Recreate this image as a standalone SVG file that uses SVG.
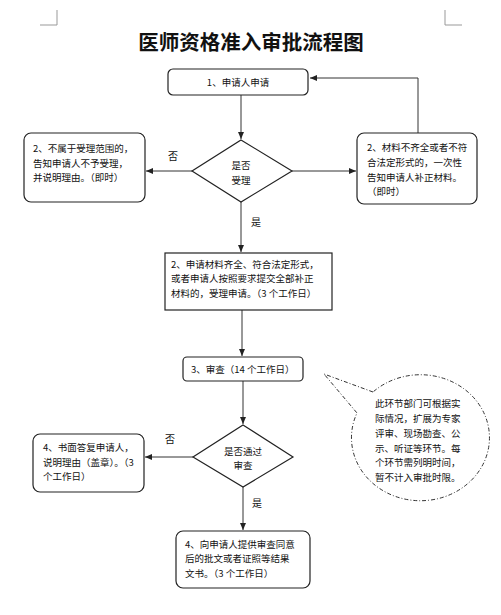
<svg xmlns="http://www.w3.org/2000/svg" width="501" height="615" viewBox="0 0 501 615">
<style>
text{font-family:"Noto Sans CJK SC","Noto Sans",sans-serif;fill:#111;dominant-baseline:central}
.t{font-size:9.5px}
.c{text-anchor:middle}
.box{fill:#fff;stroke:#222;stroke-width:1.2}
.ln{fill:none;stroke:#333;stroke-width:1}
.crop{fill:none;stroke:#999;stroke-width:1}
.lbl{font-size:10px}
</style>
<defs>
<marker id="ah" markerWidth="8" markerHeight="8" refX="7" refY="4" orient="auto" markerUnits="userSpaceOnUse">
<path d="M0,1 L7,4 L0,7 Z" fill="#222"/>
</marker>
</defs>
<rect width="501" height="615" fill="#fff"/>
<path class="crop" d="M40,25 H57 V10 M445,10 V25 H462"/>
<text x="251" y="41" class="c" style="font-size:20.5px;font-weight:700">医师资格准入审批流程图</text>

<g id="connectors">
<path class="ln" d="M241,95 V139" marker-end="url(#ah)"/>
<path class="ln" d="M418,133 V78 H310" marker-end="url(#ah)"/>
<path class="ln" d="M192,171 H146" marker-end="url(#ah)"/>
<path class="ln" d="M292,171 H356" marker-end="url(#ah)"/>
<path class="ln" d="M241,202 V252" marker-end="url(#ah)"/>
<path class="ln" d="M242,310 V356" marker-end="url(#ah)"/>
<path class="ln" d="M243,381 V424" marker-end="url(#ah)"/>
<path class="ln" d="M193,457 H145" marker-end="url(#ah)"/>
<path class="ln" d="M243,487 V530" marker-end="url(#ah)"/>
<text x="173" y="155" class="lbl c">否</text>
<text x="256" y="221" class="lbl c">是</text>
<text x="170" y="438" class="lbl c">否</text>
<text x="257" y="502" class="lbl c">是</text>
</g>

<g id="n1">
<rect class="box" x="168" y="69" width="140" height="26" rx="5"/>
<text x="238" y="81.5" class="t c">1、申请人申请</text>
</g>

<g id="d1">
<path class="box" d="M241,140 L292,171 L241,202 L192,171 Z"/>
<text x="241" y="165" class="t c">是否</text>
<text x="241" y="180" class="t c">受理</text>
</g>

<g id="n2left">
<rect class="box" x="24" y="133" width="121" height="69" rx="7"/>
<text x="33" y="148" class="t">2、不属于受理范围的，</text>
<text x="33" y="162.5" class="t">告知申请人不予受理，</text>
<text x="33" y="177" class="t">并说明理由。（即时）</text>
</g>

<g id="n2right">
<rect class="box" x="357" y="133" width="120" height="71" rx="7"/>
<text x="367" y="147" class="t">2、材料不齐全或者不符</text>
<text x="367" y="162" class="t">合法定形式的，一次性</text>
<text x="367" y="177" class="t">告知申请人补正材料。</text>
<text x="367" y="191" class="t">（即时）</text>
</g>

<g id="n3">
<rect class="box" x="165" y="253" width="167" height="57"/>
<text x="171" y="263.5" class="t">2、申请材料齐全、符合法定形式，</text>
<text x="171" y="278" class="t">或者申请人按照要求提交全部补正</text>
<text x="171" y="292.5" class="t">材料的，受理申请。（3 个工作日）</text>
</g>

<g id="n4">
<rect class="box" x="183" y="357" width="120" height="24" rx="4"/>
<text x="191" y="369" class="t">3、审查（14 个工作日）</text>
</g>

<g id="d2">
<path class="box" d="M243,425 L293,457 L243,487 L193,457 Z"/>
<text x="243" y="451" class="t c">是否通过</text>
<text x="243" y="465" class="t c">审查</text>
</g>

<g id="n5left">
<rect class="box" x="33" y="434" width="111" height="58" rx="7"/>
<text x="43" y="447" class="t">4、书面答复申请人，</text>
<text x="43" y="461.5" class="t">说明理由（盖章）。（3</text>
<text x="43" y="476" class="t">个工作日）</text>
</g>

<g id="n6">
<rect class="box" x="176" y="531" width="134" height="57" rx="7"/>
<text x="185" y="543.5" class="t">4、向申请人提供审查同意</text>
<text x="185" y="558" class="t">后的批文或者证照等结果</text>
<text x="185" y="572.5" class="t">文书。（3 个工作日）</text>
</g>

<g id="note">
<path d="M373,392 L324,374 L357,413 A69,63 0 1 0 373,392 Z" fill="#fff" stroke="#333" stroke-width="1" stroke-dasharray="4 2 1 2"/>
<text x="375" y="403" class="t">此环节部门可根据实</text>
<text x="375" y="418" class="t">际情况，扩展为专家</text>
<text x="375" y="433" class="t">评审、现场勘查、公</text>
<text x="375" y="447.5" class="t">示、听证等环节。每</text>
<text x="375" y="462" class="t">个环节需列明时间，</text>
<text x="375" y="477" class="t">暂不计入审批时限。</text>
</g>
</svg>
